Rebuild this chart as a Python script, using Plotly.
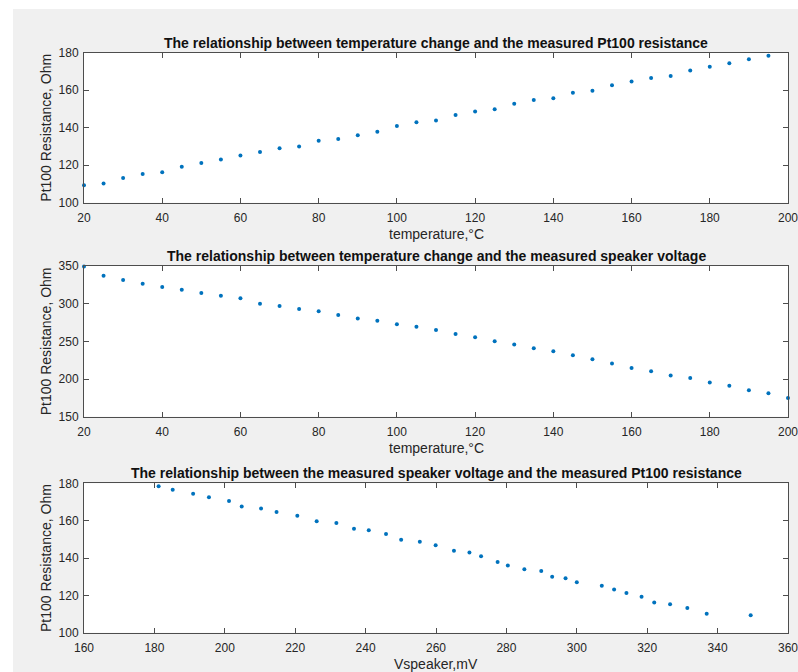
import plotly.graph_objects as go

# ---- data ----
temperature_c = [20, 25, 30, 35, 40, 45, 50, 55, 60, 65, 70, 75, 80, 85, 90, 95,
                 100, 105, 110, 115, 120, 125, 130, 135, 140, 145, 150, 155, 160,
                 165, 170, 175, 180, 185, 190, 195, 200]

pt100_resistance_ohm = [109.3, 110.2, 113.2, 115.3, 116.2, 119.2, 121.2, 123.1, 125.2,
                        127.0, 129.1, 130.0, 133.1, 134.0, 136.0, 137.9, 140.9, 142.9,
                        143.9, 146.8, 148.7, 149.8, 152.8, 154.8, 155.7, 158.7, 159.7,
                        162.6, 164.6, 166.5, 167.6, 170.5, 172.5, 174.4, 176.5, 178.4,
                        180.4]

speaker_voltage_mv = [349.4, 336.9, 331.4, 326.5, 322.0, 318.4, 314.1, 310.6, 307.1,
                      300.0, 296.8, 293.0, 289.9, 285.1, 280.4, 277.5, 272.8, 269.5,
                      265.1, 259.9, 255.4, 250.1, 245.8, 240.9, 236.7, 231.7, 226.1,
                      220.6, 214.7, 210.3, 204.8, 201.2, 195.5, 191.0, 185.2, 181.2,
                      174.8]

x_ticks_temp = [20, 40, 60, 80, 100, 120, 140, 160, 180, 200]
x_ticks_volt = [160, 180, 200, 220, 240, 260, 280, 300, 320, 340, 360]
y_ticks_res = [100, 120, 140, 160, 180]
y_ticks_volt = [150, 200, 250, 300, 350]

titles = [
    "The relationship between temperature change and the measured Pt100 resistance",
    "The relationship between temperature change and the measured speaker voltage",
    "The relationship between the measured speaker voltage and the measured Pt100 resistance",
]
x_labels = ["temperature,°C", "temperature,°C", "Vspeaker,mV"]
y_label = "Pt100 Resistance, Ohm"

# ---- layout geometry (pixels) ----
W, H = 798, 672
ML, MR = 84, 10
plot_w = W - ML - MR
panels = [(52.7, 202.7), (266.0, 416.7), (483.3, 632.7)]  # top, bottom px
FONT = "Liberation Sans, Arial, sans-serif"
MARK = "#0072BD"
AX = "#4d4d4d"
TXT = "#262626"


def py(p):
    return 1 - p / H


def px(p):
    return (p - ML) / plot_w


fig = go.Figure()

series = [
    (temperature_c, pt100_resistance_ohm),
    (temperature_c, speaker_voltage_mv),
    (speaker_voltage_mv, pt100_resistance_ohm),
]
for i, (xs, ys) in enumerate(series):
    sfx = "" if i == 0 else str(i + 1)
    fig.add_trace(go.Scatter(
        x=xs, y=ys, mode="markers", xaxis="x" + sfx, yaxis="y" + sfx,
        marker=dict(size=4, color=MARK, line=dict(width=0)),
        cliponaxis=False, showlegend=False, hoverinfo="x+y"))

x_ranges = [[20, 200], [20, 200], [160, 360]]
x_tickvals = [x_ticks_temp, x_ticks_temp, x_ticks_volt]
y_ranges = [[100, 180], [150, 350], [100, 180]]
y_tickvals = [y_ticks_res, y_ticks_volt, y_ticks_res]

common = dict(showline=True, linecolor=AX, linewidth=1, mirror="ticks",
              ticks="inside", ticklen=5, tickwidth=1, tickcolor=AX,
              showgrid=False, zeroline=False, automargin=False,
              ticklabeloverflow="allow",
              tickfont=dict(family=FONT, size=12, color=TXT))

layout = dict(width=W, height=H,
              margin=dict(l=ML, r=MR, t=0, b=0, pad=0, autoexpand=False),
              paper_bgcolor="white", plot_bgcolor="white",
              font=dict(family=FONT, color=TXT), showlegend=False)

annotations = []
for i, (top, bot) in enumerate(panels):
    sfx = "" if i == 0 else str(i + 1)
    layout["xaxis" + sfx] = dict(common, domain=[0, 1], range=x_ranges[i],
                                 tickmode="array", tickvals=x_tickvals[i],
                                 anchor="y" + sfx, ticklabelstandoff=4)
    layout["yaxis" + sfx] = dict(common, domain=[py(bot), py(top)], range=y_ranges[i],
                                 tickmode="array", tickvals=y_tickvals[i],
                                 anchor="x" + sfx, ticklabelstandoff=2)
    mid = (top + bot) / 2
    annotations.append(dict(text="<b>" + titles[i] + "</b>", xref="paper", yref="paper",
                            x=0.5, y=py(top - 10), xanchor="center", yanchor="middle",
                            showarrow=False, font=dict(family=FONT, size=14, color="#111")))
    annotations.append(dict(text=x_labels[i], xref="paper", yref="paper",
                            x=0.5, y=py(bot + 31), xanchor="center", yanchor="middle",
                            showarrow=False, font=dict(family=FONT, size=14, color=TXT)))
    annotations.append(dict(text=y_label, xref="paper", yref="paper", textangle=-90,
                            x=px(46), y=py(mid), xanchor="center", yanchor="middle",
                            showarrow=False, font=dict(family=FONT, size=14, color=TXT)))

layout["annotations"] = annotations
layout["shapes"] = [dict(type="rect", xref="paper", yref="paper", layer="below",
                         x0=px(13), x1=px(W + 5), y0=py(H + 5), y1=py(9),
                         fillcolor="#f0f0f0", line=dict(width=0))]

fig.update_layout(**layout)
# white plot areas on top of the grey figure background
for i, (top, bot) in enumerate(panels):
    fig.add_shape(type="rect", xref="paper", yref="paper", layer="below",
                  x0=0, x1=1, y0=py(bot), y1=py(top), fillcolor="white",
                  line=dict(width=0))

fig.write_html(
    "out.html",
    config={"displayModeBar": False},
    post_script=(
        "document.documentElement.style.margin='0';"
        "document.documentElement.style.padding='0';"
        "document.documentElement.style.overflow='hidden';"
        "document.body.style.margin='0';"
        "document.body.style.padding='0';"
        "document.body.style.overflow='hidden';"
        "var d=document.getElementById('{plot_id}');"
        "d.style.position='fixed';d.style.top='0px';d.style.left='0px';"
    ),
)
